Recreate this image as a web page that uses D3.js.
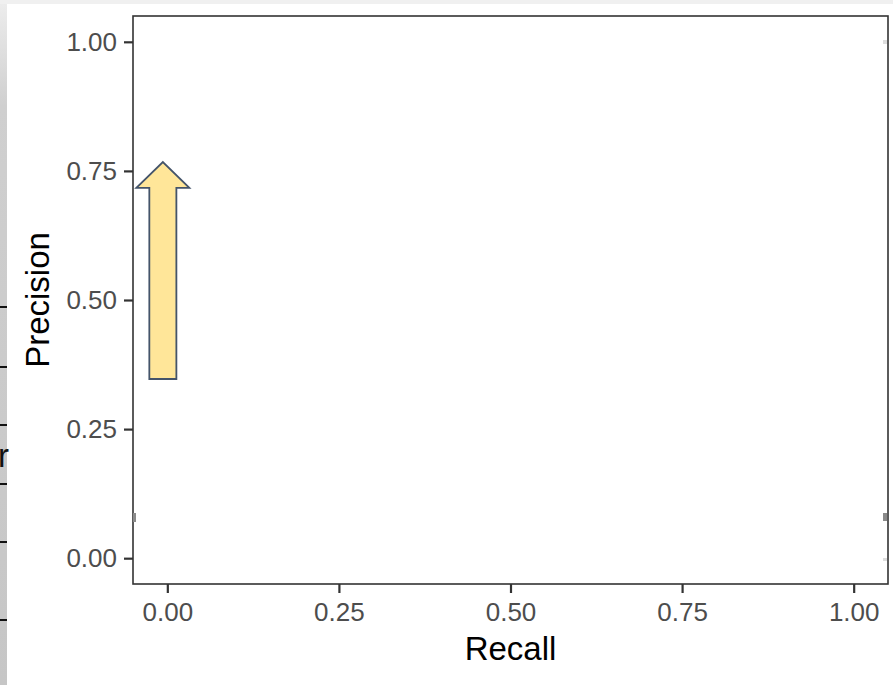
<!DOCTYPE html>
<html>
<head>
<meta charset="utf-8">
<script src="https://cdn.jsdelivr.net/npm/d3@7"></script>
<style>
  html, body { margin: 0; padding: 0; background: #ffffff; }
  svg { display: block; font-family: "Liberation Sans", Arial, sans-serif; }
</style>
</head>
<body>
<svg id="chart" width="893" height="685"></svg>
<script>
// Axis setup
const xDomain = [-0.05, 1.05];
const yDomain = [-0.05, 1.05];
const xTicks = [0, 0.25, 0.5, 0.75, 1];
const yTicks = [0, 0.25, 0.5, 0.75, 1];
const xTitle = "Recall";
const yTitle = "Precision";

// Upward arrow annotation (data units)
const arrowX = [-0.0065];          // centre line
const arrowY = [0.347, 0.717, 0.767]; // tail, head base, tip
const arrowHalfWidth = [0.0197, 0.0386]; // shaft, head

const svg = d3.select("#chart");
const W = 893, H = 685;
const panel = { left: 133, right: 888, top: 16, bottom: 584 };

// page backdrop: faint band on top, grey strip on the left
const defs = svg.append("defs");
const grad = defs.append("linearGradient")
  .attr("id", "strip").attr("x1", 0).attr("y1", 0).attr("x2", 0).attr("y2", 1);
grad.append("stop").attr("offset", "0%").attr("stop-color", "#ececec");
grad.append("stop").attr("offset", "15%").attr("stop-color", "#cfcfcf");
grad.append("stop").attr("offset", "100%").attr("stop-color", "#c6c6c6");

svg.append("rect").attr("x", 0).attr("y", 0).attr("width", W).attr("height", 4).attr("fill", "#f0f0f0");
svg.append("rect").attr("x", 0).attr("y", 4).attr("width", 7).attr("height", H - 4).attr("fill", "url(#strip)");
const stripLines = [307, 367, 425, 484, 542, 620];
svg.selectAll("line.strip").data(stripLines).join("line")
  .attr("class", "strip")
  .attr("x1", 0).attr("x2", 7).attr("y1", d => d).attr("y2", d => d)
  .attr("stroke", "#111").attr("stroke-width", 2);
svg.append("text").attr("x", -2).attr("y", 467)
  .attr("font-size", 33).attr("fill", "#111").text("r");

const x = d3.scaleLinear().domain(xDomain).range([panel.left, panel.right]);
const y = d3.scaleLinear().domain(yDomain).range([panel.bottom, panel.top]);

// panel background and border
svg.append("rect")
  .attr("x", panel.left).attr("y", panel.top)
  .attr("width", panel.right - panel.left).attr("height", panel.bottom - panel.top)
  .attr("fill", "#ffffff").attr("stroke", "#333333").attr("stroke-width", 1.6);

// small marks along the panel edges
const edgeMarks = [
  { x: 133, y: 513, w: 3, h: 9, c: "#8a8a8a" },
  { x: 883, y: 513, w: 4, h: 8, c: "#8a8a8a" },
  { x: 883, y: 558, w: 4, h: 3, c: "#dddddd" },
  { x: 883, y: 40, w: 4, h: 4, c: "#dddddd" }
];
svg.selectAll("rect.mark").data(edgeMarks).join("rect")
  .attr("class", "mark")
  .attr("x", d => d.x).attr("y", d => d.y).attr("width", d => d.w).attr("height", d => d.h)
  .attr("fill", d => d.c);

const fmt = d3.format(".2f");

const gx = svg.append("g").attr("transform", `translate(0,${panel.bottom})`)
  .call(d3.axisBottom(x).tickValues(xTicks).tickFormat(fmt).tickSize(9).tickPadding(10).tickSizeOuter(0));
const gy = svg.append("g").attr("transform", `translate(${panel.left},0)`)
  .call(d3.axisLeft(y).tickValues(yTicks).tickFormat(fmt).tickSize(9).tickPadding(7).tickSizeOuter(0));

[gx, gy].forEach(g => {
  g.select(".domain").remove();
  g.selectAll(".tick line").attr("stroke", "#333333").attr("stroke-width", 2.2);
  g.selectAll(".tick text")
    .attr("fill", "#4d4d4d")
    .attr("font-size", 26)
    .attr("font-family", "'Liberation Sans', Arial, sans-serif");
});

// axis titles
svg.append("text")
  .attr("x", (panel.left + panel.right) / 2).attr("y", 660)
  .attr("text-anchor", "middle").attr("font-size", 33).attr("fill", "#000")
  .text(xTitle);
svg.append("text")
  .attr("transform", `translate(49,${(panel.top + panel.bottom) / 2}) rotate(-90)`)
  .attr("text-anchor", "middle").attr("font-size", 33).attr("fill", "#000")
  .text(yTitle);

// arrow
const cx = arrowX[0];
const [tail, headBase, tip] = arrowY;
const [sw, hw] = arrowHalfWidth;
const pts = [
  [cx - sw, tail], [cx - sw, headBase], [cx - hw, headBase], [cx, tip],
  [cx + hw, headBase], [cx + sw, headBase], [cx + sw, tail]
].map(([a, b]) => [x(a), y(b)]);
svg.append("path")
  .attr("d", d3.line()(pts) + "Z")
  .attr("fill", "#ffe699")
  .attr("stroke", "#44546a")
  .attr("stroke-width", 1.8)
  .attr("stroke-linejoin", "miter");
</script>
</body>
</html>
